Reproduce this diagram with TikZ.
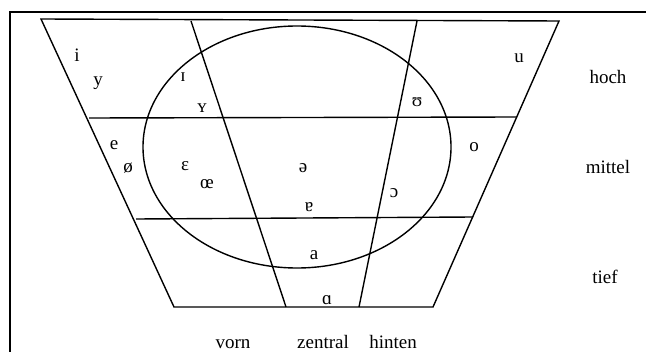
\documentclass[tikz,border=0pt]{standalone}
\usepackage{fontspec}
\setmainfont{Liberation Serif}
\usepackage{tikz}
\usetikzlibrary{positioning}

\begin{document}
\begin{tikzpicture}[x=0.5pt, y=-0.5pt,
	grid/.style={line width=0.7pt, black},
	frame/.style={line width=1.1pt, black},
	vowel/.style={inner sep=0pt, text height=1ex, text depth=0pt,
		font=\fontsize{9.5}{10}\selectfont},
	axis/.style={inner sep=0pt, anchor=base, font=\fontsize{9.5}{10}\selectfont}
	]
	\useasboundingbox (0,0) rectangle (646,352);
	% frame
	\draw[frame] (10,352) -- (10,12) -- (646,12);
	% corners of the trapezoid
	\coordinate (tl) at (41,19);
	\coordinate (tr) at (559,21);
	\coordinate (bl) at (174,307);
	\coordinate (br) at (433,307);
	\draw[grid] (tl) -- (tr) -- (br) -- (bl) -- cycle;
	% horizontal lines
	\coordinate (hl) at (89,118);
	\coordinate (hr) at (517,117);
	\coordinate (ml) at (136,219);
	\coordinate (mr) at (473,217);
	\draw[grid] (hl) -- (hr);
	\draw[grid] (ml) -- (mr);
	% vertical lines
	\coordinate (zt) at (191,21);
	\coordinate (zb) at (286,307);
	\coordinate (ht) at (417,21);
	\coordinate (hb) at (359,307);
	\draw[grid] (zt) -- (zb);
	\draw[grid] (ht) -- (hb);
	% ellipse
	\draw[grid] (297,147) ellipse [x radius=154, y radius=121];
	% vowels
	\node[vowel] (i)  at (77,57)   {i};
	\node[vowel] (y)  at (98,81)   {y};
	\node[vowel] (I)  at (183,77)  {ɪ};
	\node[vowel] (Y)  at (202,108) {ʏ};
	\node[vowel] (U)  at (417,102) {ʊ};
	\node[vowel] (u)  at (519,58)  {u};
	\node[vowel] (e)  at (114,145) {e};
	\node[vowel] (oe) at (128,168) {ø};
	\node[vowel] (E)  at (185,166) {ɛ};
	\node[vowel] (OE) at (207,184) {œ};
	\node[vowel] (sw) at (303,168) {ə};
	\node[vowel] (er) at (309,207) {ɐ};
	\node[vowel] (O)  at (394,193) {ɔ};
	\node[vowel] (o)  at (474,147) {o};
	\node[vowel] (a)  at (314,255) {a};
	\node[vowel] (A)  at (327,300) {ɑ};
	% labels
	\node[axis] (hoch)    at (608,84)  {hoch};
	\node[axis] (mittel)  at (608,173) {mittel};
	\node[axis] (tief)    at (605,283) {tief};
	\node[axis] (vorn)    at (233,348) {vorn};
	\node[axis] (zentral) at (323,348) {zentral};
	\node[axis] (hinten)  at (393,348) {hinten};
\end{tikzpicture}
\end{document}
